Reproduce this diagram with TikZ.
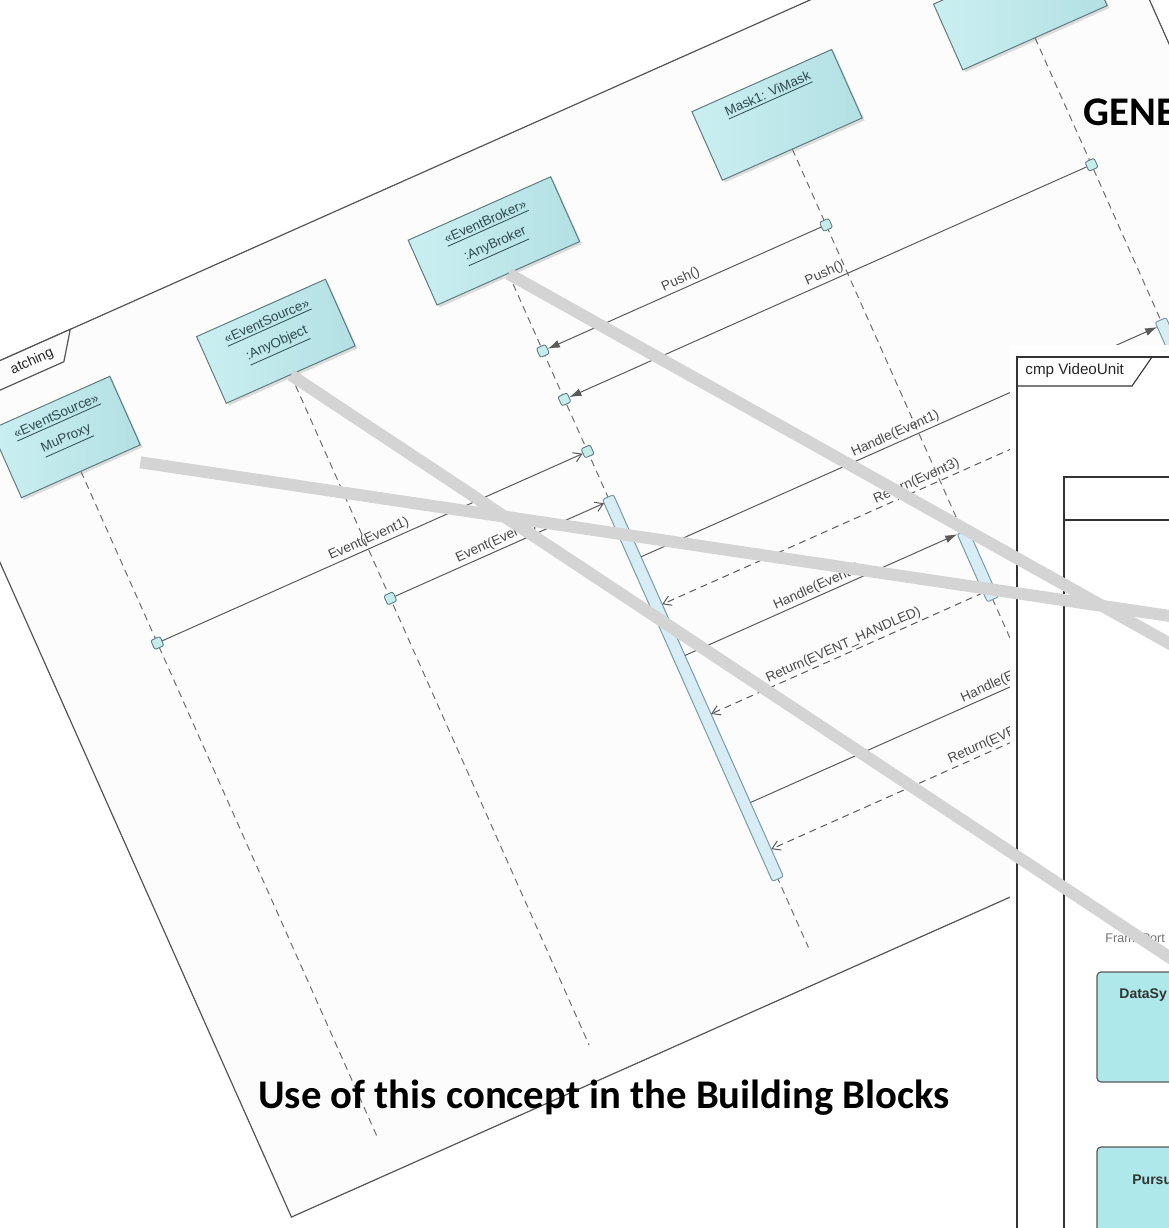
\documentclass[tikz,border=0pt]{standalone}
\usepackage{fontspec}
\setmainfont{Liberation Sans}
\newfontfamily\titlefont{Carlito}
\usetikzlibrary{arrows.meta,shadows}

\definecolor{framefill}{HTML}{FCFCFC}
\definecolor{frameline}{HTML}{555555}
\definecolor{boxleft}{HTML}{CBEFF1}
\definecolor{boxright}{HTML}{B3E0E4}
\definecolor{boxline}{HTML}{5F7D80}
\definecolor{lifeline}{HTML}{6E6E6E}
\definecolor{msgline}{HTML}{5A5A5A}
\definecolor{sqfill}{HTML}{C6ECEC}
\definecolor{actfill}{HTML}{D7ECF4}
\definecolor{actline}{HTML}{7A9CA4}
\definecolor{textgray}{HTML}{4A4A4A}
\definecolor{boxtext}{HTML}{2E4A4E}
\definecolor{tracegray}{HTML}{D4D4D4}
\definecolor{partfill}{HTML}{AEE8EA}

\tikzset{
  seqframe/.style={draw=frameline, line width=0.6pt, fill=framefill},
  lifebox/.style={draw=boxline, line width=0.5pt, left color=boxleft, right color=boxright,
    inner sep=0pt, drop shadow={shadow xshift=1.2pt, shadow yshift=-1.2pt, opacity=0.25}},
  boxlabel/.style={font=\fontsize{6.7}{8}\selectfont, text=boxtext, inner sep=0pt},
  lifedash/.style={draw=lifeline, line width=0.5pt, dash pattern=on 3.5pt off 2.5pt},
  execsq/.style={draw=boxline, fill=sqfill, line width=0.45pt, rounded corners=1pt,
    minimum size=5pt, inner sep=0pt},
  actbar/.style={draw=actline, fill=actfill, line width=0.5pt, rounded corners=1pt,
    minimum width=6pt, inner sep=0pt},
  callmsg/.style={draw=msgline, line width=0.5pt, -{Latex[length=6pt,width=4pt]}},
  asyncmsg/.style={draw=msgline, line width=0.5pt, -{Straight Barb[length=4pt,width=5pt]}},
  retmsg/.style={draw=msgline, line width=0.5pt, dash pattern=on 3.5pt off 2.5pt,
    -{Straight Barb[length=4pt,width=5pt]}},
  msglabel/.style={font=\fontsize{6.8}{8}\selectfont, text=textgray, inner sep=1pt, above},
  trace/.style={draw=tracegray, line width=6pt},
  cmpline/.style={draw=black!80, line width=0.55pt},
  parttext/.style={font=\bfseries\fontsize{7}{8}\selectfont, text=black!80, inner sep=0pt, anchor=west},
  title/.style={font=\titlefont\bfseries\fontsize{20.35}{24}\selectfont, inner sep=0pt, anchor=base west},
}

\begin{document}
\begin{tikzpicture}[x=0.5pt, y=-0.5pt]
\useasboundingbox (0,0) rectangle (1169,1228);
\clip (0,0) rectangle (1169,1228);
\fill[white] (0,0) rectangle (1169,1228);

% ---------- sequence diagram, tilted ----------
\begin{scope}[cm={0.9135,0.4067,-0.4067,0.9135,(-75,394)}, transform shape]
  % frame and its tab
  \path[seqframe] (0,0) rectangle (1279,901);
  \draw[seqframe] (0,0) -- (159,0) -- (140,27) -- (0,27);
  \node[font=\fontsize{7}{8}\selectfont, text=black!85, inner sep=0pt, anchor=east] (tab) at (134,14) {atching};

  % lifeline ends
  \coordinate (muend) at (111,865);
  \coordinate (aoend) at (342,865);
  \coordinate (brend) at (582,865);
  \coordinate (vmend) at (892,865);
  \coordinate (psend) at (1159,865);

  % lifelines
  \draw[lifedash] (111,134) -- (muend);
  \draw[lifedash] (342,131) -- (aoend);
  \draw[lifedash] (582,127) -- (brend);
  \draw[lifedash] (892,129) -- (vmend);
  \draw[lifedash] (1159,126) -- (psend);

  % lifeline heads
  \node[lifebox, minimum width=65pt, minimum height=37.5pt] (muproxy) at (111,96.5) {};
  \node[lifebox, minimum width=70.5pt, minimum height=36.5pt] (anyobj) at (342,94.5) {};
  \node[lifebox, minimum width=78pt, minimum height=35.5pt] (broker) at (582,91.5) {};
  \node[lifebox, minimum width=76.5pt, minimum height=37.5pt] (vimask) at (892,91.5) {};
  \node[lifebox, minimum width=79pt, minimum height=36pt] (pusher) at (1159,90) {};

  \node[boxlabel] (mu-st) at (111,75) {\underline{«EventSource»}};
  \node[boxlabel] (mu-nm) at (111,100) {\underline{MuProxy}};
  \node[boxlabel] (ao-st) at (342,74) {\underline{«EventSource»}};
  \node[boxlabel] (ao-nm) at (342,99) {\underline{:AnyObject}};
  \node[boxlabel] (br-st) at (582,72) {\underline{«EventBroker»}};
  \node[boxlabel] (br-nm) at (582,97) {\underline{:AnyBroker}};
  \node[boxlabel] (vm-nm) at (892,70) {\underline{Mask1: ViMask}};

  % activations
  \node[actbar, minimum height=209pt] (bact) at (582,581) {};
  \node[actbar, minimum height=37pt] (vact) at (892,585) {};
  \node[actbar, minimum height=32.5pt] (pact1) at (1159,467.5) {};
  \node[actbar, minimum height=32.5pt] (pact2) at (1159,734.5) {};

  % execution points
  \node[execsq] (mu1) at (111,322) {};
  \node[execsq] (ao1) at (342,376) {};
  \node[execsq] (b1) at (582,212) {};
  \node[execsq] (b2) at (582,265) {};
  \node[execsq] (b3) at (582,322) {};
  \node[execsq] (vm1) at (892,212) {};
  \node[execsq] (ps1) at (1159,265) {};

  % message ports on the activations
  \coordinate (bEv2) at (576,376);
  \coordinate (bH1) at (588,440);  \coordinate (pH1) at (1153,440);
  \coordinate (bR1) at (588,492);  \coordinate (pR1) at (1153,492);
  \coordinate (bH2) at (588,548);  \coordinate (vH2) at (886,548);
  \coordinate (bR2) at (588,612);  \coordinate (vR2) at (886,612);
  \coordinate (bH3) at (588,709);  \coordinate (pH3) at (1153,709);
  \coordinate (bR3) at (588,760);  \coordinate (pR3) at (1153,760);

  % messages
  \draw[callmsg] (vm1.west) -- node[msglabel] {Push()} (b1.east);
  \draw[callmsg] (ps1.west) -- node[msglabel] {Push()} (b2.east);
  \draw[asyncmsg] (mu1.east) -- node[msglabel] {Event(Event1)} (b3.west);
  \draw[asyncmsg] (ao1.east) -- node[msglabel] {Event(Event2)} (bEv2);
  \draw[callmsg] (bH1) -- node[msglabel] {Handle(Event1)} (pH1);
  \draw[retmsg] (pR1) -- node[msglabel] {Return(Event3)} (bR1);
  \draw[callmsg] (bH2) -- node[msglabel] {Handle(Event1)} (vH2);
  \draw[retmsg] (vR2) -- node[msglabel] {Return(EVENT\_HANDLED)} (bR2);
  \draw[callmsg] (bH3) -- node[msglabel] {Handle(Event2)} (pH3);
  \draw[retmsg] (pR3) -- node[msglabel] {Return(EVENT\_HANDLED)} (bR3);

  % free start of the proxy trace
  \coordinate (g3s) at (169,150);
\end{scope}

% ---------- component diagram ----------
\fill[white] (1010,345) rectangle (1180,1240);
\draw[cmpline] (1017,1240) -- (1017,357) -- (1180,357);
\draw[cmpline] (1017,386) -- (1132,386) -- (1152,357);
\node[font=\fontsize{7.6}{9}\selectfont, text=black!85, inner sep=0pt, anchor=west] (cmptab) at (1025,371) {cmp VideoUnit};
\draw[cmpline, line width=0.8pt] (1064,1240) -- (1064,477) -- (1180,477);
\draw[cmpline] (1064,520) -- (1180,520);
\node[font=\fontsize{6.3}{8}\selectfont, text=black!55, inner sep=0pt, anchor=west] (fport) at (1105,938) {FramePort};
\draw[draw=black!65, fill=partfill, line width=0.6pt, rounded corners=2pt] (1097,972) rectangle (1200,1082);
\node[parttext] (datasync) at (1119,995) {DataSy};
\draw[draw=black!65, fill=partfill, line width=0.6pt, rounded corners=2pt] (1097,1147) rectangle (1200,1260);
\node[parttext] (pursuit) at (1132,1180) {Pursu};

% ---------- traces to the building blocks ----------
\coordinate (g1e) at (1190,655);
\coordinate (g2e) at (1190,971);
\coordinate (g3e) at (1190,619);
\draw[trace] (broker.south) -- (g1e);
\draw[trace] (anyobj.south) -- (g2e);
\draw[trace] (g3s) -- (g3e);

% ---------- headings ----------
\node[title] (usehead) at (258,1108) {Use of this concept in the Building Blocks};
\node[title] (genhead) at (1083,125) {GENE};
\end{tikzpicture}
\end{document}
